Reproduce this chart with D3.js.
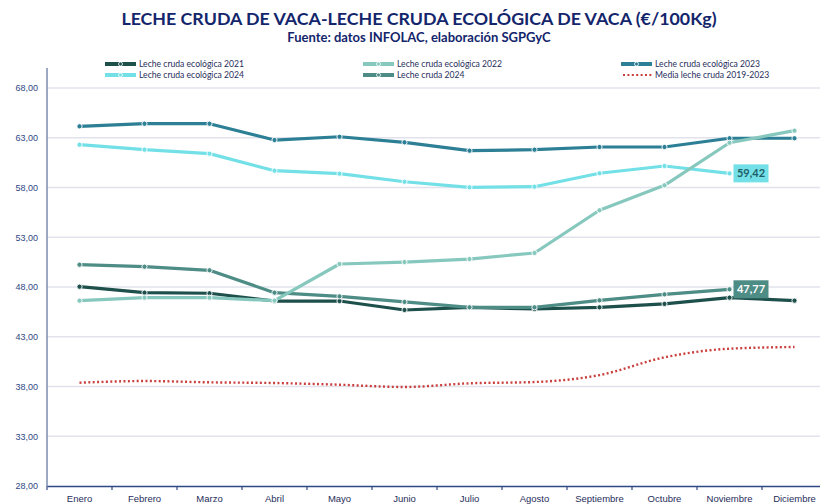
<!DOCTYPE html>
<html>
<head>
<meta charset="utf-8">
<script src="https://cdn.jsdelivr.net/npm/d3@7"></script>
<style>
  body { margin: 0; background: #fff; }
  svg { display: block; font-family: Lato, "Open Sans", sans-serif; }
</style>
</head>
<body>
<svg id="chart" width="820" height="504"></svg>
<script>
// months on the x axis
var months = ["Enero", "Febrero", "Marzo", "Abril", "Mayo", "Junio", "Julio",
              "Agosto", "Septiembre", "Octubre", "Noviembre", "Diciembre"];

// values (€/100Kg)
var eco2021 = [48.03, 47.43, 47.37, 46.59, 46.59, 45.69, 45.96, 45.79, 45.96, 46.30, 46.93, 46.63];
var eco2022 = [46.63, 46.93, 46.93, 46.63, 50.31, 50.51, 50.81, 51.42, 55.71, 58.22, 62.50, 63.71];
var eco2023 = [64.15, 64.41, 64.41, 62.77, 63.10, 62.54, 61.70, 61.80, 62.07, 62.07, 62.95, 62.95];
var eco2024 = [62.30, 61.80, 61.40, 59.69, 59.39, 58.58, 58.02, 58.08, 59.43, 60.16, 59.42];
var cruda2024 = [50.24, 50.04, 49.68, 47.43, 47.06, 46.50, 45.96, 45.96, 46.66, 47.26, 47.77];
var media1923 = [38.38, 38.55, 38.42, 38.35, 38.18, 37.95, 38.32, 38.45, 39.15, 40.93, 41.80, 41.97];

var yTicks = [28, 33, 38, 43, 48, 53, 58, 63, 68];

var series = [
    {name: "Leche cruda ecológica 2021", values: eco2021, color: "#1d4f4b"},
    {name: "Leche cruda ecológica 2022", values: eco2022, color: "#86c8bd"},
    {name: "Leche cruda ecológica 2023", values: eco2023, color: "#2d7f95"},
    {name: "Leche cruda ecológica 2024", values: eco2024, color: "#72e0e6", label: true, labelText: "#1e5d66"},
    {name: "Leche cruda 2024", values: cruda2024, color: "#4e8c86", label: true, labelText: "#ffffff"},
    {name: "Media leche cruda 2019-2023", values: media1923, color: "#c9403e", dotted: true}
];

chart();

function chart() {
    var svg = d3.select("#chart"),
        margin = {top: 88, left: 47, bottom: 18, right: 0},
        width = +svg.attr("width"),
        height = +svg.attr("height");

    var x = d3.scaleBand()
        .domain(months)
        .range([margin.left, margin.left + 65 * months.length]);

    var y = d3.scaleLinear()
        .domain([28, 68])
        .range([height - margin.bottom, margin.top]);

    var cx = function(i){ return x(months[i]) + x.bandwidth() / 2; };
    var fmt = function(v){ return d3.format(".2f")(v).replace(".", ","); };

    // title
    svg.append("text")
        .attr("x", 419).attr("y", 25)
        .attr("text-anchor", "middle")
        .style("font-size", "17.8px").style("font-weight", "bold")
        .attr("fill", "#13256b")
        .text("LECHE CRUDA DE VACA-LECHE CRUDA ECOLÓGICA DE VACA (€/100Kg)");

    svg.append("text")
        .attr("x", 419).attr("y", 42)
        .attr("text-anchor", "middle")
        .style("font-size", "13px").style("font-weight", "bold")
        .attr("fill", "#13256b")
        .text("Fuente: datos INFOLAC, elaboración SGPGyC");

    // grid lines
    svg.append("g").attr("class", "grid")
        .selectAll("line").data(yTicks.slice(1)).enter().append("line")
        .attr("x1", margin.left).attr("x2", width)
        .attr("y1", d => y(d)).attr("y2", d => y(d))
        .attr("stroke", "#e2e2ec").attr("stroke-width", 1.5);

    // y axis
    var yAxis = svg.append("g")
        .attr("transform", `translate(${margin.left},0)`)
        .call(d3.axisLeft(y).tickValues(yTicks).tickSize(0).tickPadding(9).tickFormat(fmt));
    yAxis.select(".domain").remove();
    yAxis.selectAll("text").style("font-size", "9px").attr("fill", "#2f4784");
    svg.append("line")
        .attr("x1", margin.left).attr("x2", margin.left)
        .attr("y1", y(70)).attr("y2", y(28))
        .attr("stroke", "#7c8bb0").attr("stroke-width", 1.5);

    // x axis: labels centred, ticks on the band edges
    var xAxis = svg.append("g")
        .attr("transform", `translate(0,${y(28)})`)
        .call(d3.axisBottom(x).tickSize(0).tickPadding(9));
    xAxis.select(".domain").attr("stroke", "#2f4784").attr("stroke-width", 1.5);
    xAxis.selectAll("text").style("font-size", "9.5px").attr("fill", "#1f2d5a");
    xAxis.selectAll("line.edge").data(months).enter().append("line")
        .attr("class", "edge")
        .attr("x1", d => x(d)).attr("x2", d => x(d))
        .attr("y1", 0).attr("y2", 4)
        .attr("stroke", "#2f4784").attr("stroke-width", 1.2);

    // lines
    var straight = d3.line().x((d, i) => cx(i)).y(d => y(d));
    var smooth = d3.line().x((d, i) => cx(i)).y(d => y(d)).curve(d3.curveMonotoneX);

    var order = [5, 0, 2, 3, 4, 1];
    var lines = svg.append("g").attr("class", "lines");
    order.forEach(function(k){
        var s = series[k];
        if (s.dotted) {
            lines.append("path")
                .attr("d", smooth(s.values))
                .attr("fill", "none")
                .attr("stroke", s.color)
                .attr("stroke-width", 2.4)
                .attr("stroke-dasharray", "2,2.4");
            return;
        }
        lines.append("path")
            .attr("d", straight(s.values))
            .attr("fill", "none")
            .attr("stroke", s.color)
            .attr("stroke-width", 3.2)
            .attr("stroke-linejoin", "round");
        lines.append("g").selectAll("circle").data(s.values).enter().append("circle")
            .attr("cx", (d, i) => cx(i))
            .attr("cy", d => y(d))
            .attr("r", 2.6)
            .attr("fill", s.color)
            .attr("stroke", "#ffffff")
            .attr("stroke-width", 0.9);
    });

    // data labels on the last 2024 values
    series.filter(s => s.label).forEach(function(s){
        var i = s.values.length - 1, v = s.values[i];
        var g = svg.append("g").attr("transform", `translate(${cx(i) + 4},${y(v) - 9})`);
        g.append("rect").attr("width", 35).attr("height", 18).attr("fill", s.color);
        g.append("text")
            .attr("x", 17.5).attr("y", 13)
            .attr("text-anchor", "middle")
            .style("font-size", "11px").style("font-weight", "bold")
            .attr("fill", s.labelText)
            .text(fmt(v));
    });

    // legend, 3 columns x 2 rows
    var legendX = [105, 363, 621], legendY = [64, 75];
    var legend = svg.append("g").attr("class", "legend");
    series.forEach(function(s, k){
        var lx = legendX[k % 3], ly = legendY[Math.floor(k / 3)];
        var item = legend.append("g").attr("transform", `translate(${lx},${ly})`);
        if (s.dotted) {
            item.append("line").attr("x1", 2).attr("x2", 31).attr("y1", 0).attr("y2", 0)
                .attr("stroke", s.color).attr("stroke-width", 2)
                .attr("stroke-dasharray", "2,2.4");
        } else {
            item.append("line").attr("x1", 0).attr("x2", 31).attr("y1", 0).attr("y2", 0)
                .attr("stroke", s.color).attr("stroke-width", 4);
            item.append("circle").attr("cx", 15.5).attr("cy", 0).attr("r", 2)
                .attr("fill", s.color).attr("stroke", "#fff").attr("stroke-width", 0.8);
        }
        item.append("text")
            .attr("x", 34).attr("y", 3)
            .style("font-size", "8.6px")
            .attr("fill", "#1f2d5a")
            .text(s.name);
    });
}
</script>
</body>
</html>
